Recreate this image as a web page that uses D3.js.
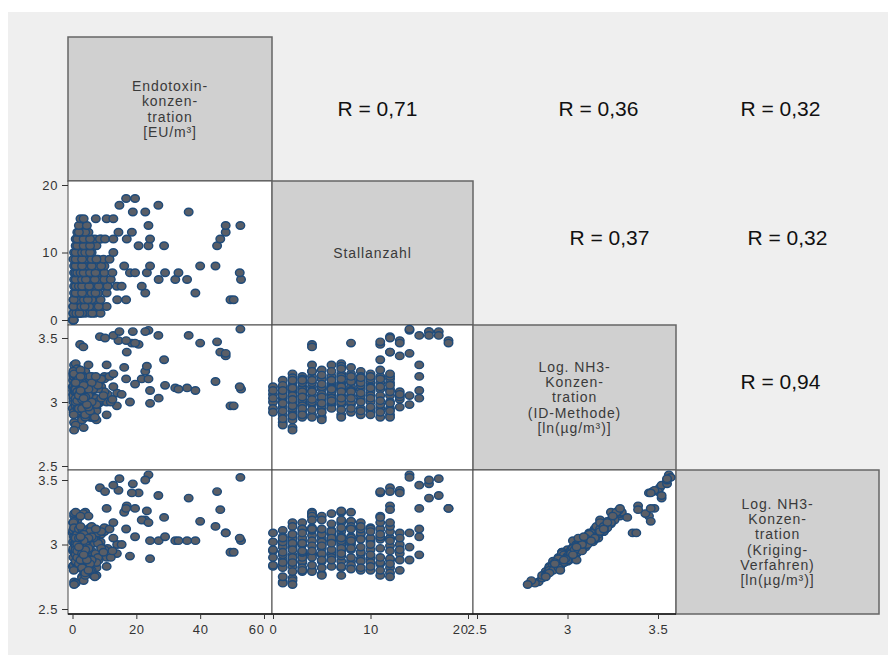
<!DOCTYPE html>
<html lang="de">
<head>
<meta charset="utf-8">
<title>Korrelationsmatrix Endotoxin / NH3</title>
<script src="https://cdnjs.cloudflare.com/ajax/libs/d3/7.8.5/d3.min.js"></script>
<style>
  html, body { margin: 0; padding: 0; background: #fff; }
  svg { display: block; font-family: "Liberation Sans", Arial, sans-serif; }
</style>
</head>
<body>
<script>
// diagonal labels (one entry per line)
const varLabels = [
  ["Endotoxin-", "konzen-", "tration", "[EU/m³]"],
  ["Stallanzahl"],
  ["Log. NH3-", "Konzen-", "tration", "(ID-Methode)", "[ln(µg/m³)]"],
  ["Log. NH3-", "Konzen-", "tration", "(Kriging-", "Verfahren)", "[ln(µg/m³)]"]
];

// correlations in the upper triangle
const corrRow  = [0, 0, 0, 1, 1, 2];
const corrCol  = [1, 2, 3, 2, 3, 3];
const corrText = ["R = 0,71", "R = 0,36", "R = 0,32", "R = 0,37", "R = 0,32", "R = 0,94"];

// tick labels
const ticksEndo  = [0, 20, 40, 60];
const ticksStall = [0, 10, 20];
const ticksNH3   = [2.5, 3, 3.5];

// observations, one line per Stallanzahl group (0..18)
const endotoxin = [
  0.1,0.2,0.3,0.1,0.4,0.2,0.3,
  0.2,0.8,1.5,2,2.5,0.5,1,4,5.5,7,8.8,0.4,1.2,3,2.2,6.2,
  0.2,0.8,1.5,2,2.5,3,3.5,0.5,4.5,6,7.5,9,10.7,1,1.8,0.3,2.8,5.2,3.8,8.2,
  0.3,1,2,3,4,5.5,7,8.8,2.5,6,14,16.8,49.5,50.5,0.8,1.6,3.6,4.8,0.4,
  0.5,1.5,2.5,3.5,5,6.5,8,10.7,4,2.4,3.4,5,22.8,38.5,1,3,6,7.2,
  0.5,1.5,2.5,3.5,4.5,6,7.5,9,11,13.9,15.4,21.7,1,2,3,5.2,8.2,
  0.5,1.5,2.5,3.5,5,6.5,8,10,12,27,32.2,35.9,52.8,1,3,4.2,7,
  0.5,1,2,3,4,5,6.5,8,10,12.5,18,19.6,23.3,29,33.2,52.4,1.5,2.5,3.5,5.5,7.2,
  0.5,1.5,2.5,3.5,5,6.5,8,10,4,16.2,24.3,40,44.8,1,3,6,9,
  0.3,1.5,2.5,3.5,5,6.5,8,9.7,11.6,4,1,3,6,7.5,
  0.5,1.5,2.5,3.5,4.5,6,12.8,2,5,1,3,4,5.5,
  1,2,3,4,5,6,7.5,2.5,20.7,23.8,28.7,45.3,1.5,3.5,5.5,
  1,2,3,4,5,6,7,9,2.5,8.6,10.2,12.8,17,24.3,46.3,1.5,3.5,5.5,
  1.5,3,5,2.5,14.4,18.6,48,4,2,
  2,4.5,23.8,48,52.6,
  2.5,3.5,7.3,10.7,12.8,
  18.9,22.8,36.4,
  14.7,26.9,
  16.8,19.6
];
const stalls = [
  0,0,0,0,0,0,0,
  1,1,1,1,1,1,1,1,1,1,1,1,1,1,1,1,
  2,2,2,2,2,2,2,2,2,2,2,2,2,2,2,2,2,2,2,2,
  3,3,3,3,3,3,3,3,3,3,3,3,3,3,3,3,3,3,3,
  4,4,4,4,4,4,4,4,4,4,4,4,4,4,4,4,4,4,
  5,5,5,5,5,5,5,5,5,5,5,5,5,5,5,5,5,
  6,6,6,6,6,6,6,6,6,6,6,6,6,6,6,6,6,
  7,7,7,7,7,7,7,7,7,7,7,7,7,7,7,7,7,7,7,7,7,
  8,8,8,8,8,8,8,8,8,8,8,8,8,8,8,8,8,
  9,9,9,9,9,9,9,9,9,9,9,9,9,9,
  10,10,10,10,10,10,10,10,10,10,10,10,10,
  11,11,11,11,11,11,11,11,11,11,11,11,11,11,11,
  12,12,12,12,12,12,12,12,12,12,12,12,12,12,12,12,12,12,
  13,13,13,13,13,13,13,13,13,
  14,14,14,14,14,
  15,15,15,15,15,
  16,16,16,
  17,17,
  18,18
];
const nh3ID = [
  3.12,3.06,3.00,2.95,2.92,3.09,3.03,
  3.17,3.10,3.03,2.96,2.90,2.84,2.82,3.07,3.00,2.93,3.12,3.13,2.99,2.87,3.05,3.09,
  3.22,3.15,3.08,3.00,2.93,2.86,2.80,2.78,3.12,3.04,2.95,3.10,2.90,2.97,3.19,3.05,3.11,2.89,3.02,3.17,
  3.20,3.12,3.05,2.98,2.92,2.88,3.10,3.00,3.15,3.02,3.07,3.18,2.97,2.97,3.08,2.95,3.17,3.04,2.90,
  3.20,3.12,3.05,2.98,2.90,2.88,3.15,3.00,3.24,3.45,3.43,3.29,3.24,3.09,3.08,3.17,3.02,2.94,
  3.25,3.18,3.10,3.02,2.95,2.88,2.86,3.12,3.06,2.97,3.06,3.18,3.14,3.04,3.21,2.92,2.99,
  3.29,3.20,3.12,3.05,2.98,2.95,3.15,3.08,3.00,3.03,3.11,3.11,3.10,3.24,3.17,3.01,3.10,
  3.22,3.30,3.15,3.05,2.98,2.90,2.88,3.10,3.20,3.02,3.00,3.14,3.28,3.13,3.10,3.12,3.26,3.08,2.94,3.18,3.03,
  3.22,3.15,3.05,2.98,2.92,3.10,3.00,3.18,3.12,3.27,3.09,3.46,3.16,3.08,2.95,3.20,3.03,
  3.24,3.17,3.10,3.02,2.95,2.90,3.13,3.05,3.20,3.07,3.00,3.15,3.19,2.93,
  3.22,3.15,3.08,3.00,2.93,2.90,3.12,3.18,3.05,3.03,2.96,3.11,3.20,
  3.10,2.95,3.20,2.88,3.05,3.15,2.98,3.25,3.45,3.18,3.33,3.47,3.01,3.12,2.92,
  3.15,3.05,2.95,2.90,3.10,3.00,2.88,3.18,3.20,3.51,3.50,3.22,3.39,2.99,3.39,3.08,3.13,2.93,
  3.08,3.02,2.96,3.05,3.48,3.46,3.36,3.04,3.06,
  3.05,2.98,3.56,3.38,3.57,
  3.09,3.03,3.20,3.29,3.52,
  3.55,3.55,3.52,
  3.55,3.52,
  3.48,3.46
];
const nh3Krig = [
  3.09,2.95,2.96,2.83,2.84,3.02,2.90,
  3.11,3.00,2.98,2.85,2.82,2.71,2.70,3.03,2.88,2.86,3.02,3.06,2.92,2.75,2.94,3.05,
  3.17,3.06,3.04,2.90,2.87,2.74,2.72,2.69,3.08,2.92,2.90,2.98,2.83,2.86,3.14,2.97,3.01,2.79,2.96,3.08,
  3.17,3.02,3.00,2.86,2.87,2.79,3.05,2.92,3.12,2.90,3.00,3.12,2.94,2.94,3.01,2.82,3.09,2.95,2.80,
  3.13,3.07,2.93,2.92,2.80,2.79,3.11,2.90,3.25,3.22,3.24,3.22,3.19,3.03,2.99,3.12,2.95,2.84,
  3.22,3.09,3.05,2.92,2.87,2.77,2.76,3.08,2.97,2.93,3.00,3.19,3.02,2.99,3.12,2.82,2.88,
  3.24,3.11,3.08,2.94,2.92,2.83,3.10,2.96,2.90,3.03,3.03,3.03,3.03,3.16,3.05,2.88,3.01,
  3.17,3.25,3.04,2.99,2.87,2.82,2.76,3.01,3.10,2.95,2.91,3.06,3.26,3.06,3.03,3.05,3.19,2.97,2.83,3.13,2.93,
  3.18,3.06,3.00,2.87,2.84,3.05,2.90,3.13,3.02,3.25,3.03,3.18,3.14,2.96,2.81,3.12,2.97,
  3.17,3.08,3.05,2.93,2.89,2.80,3.09,2.94,3.12,2.98,2.87,3.04,3.14,2.82,
  3.13,3.05,3.02,2.89,2.86,2.80,3.05,3.12,2.96,2.92,2.83,3.00,3.10,
  3.04,2.85,3.12,2.76,2.97,3.06,2.86,3.22,3.40,3.17,3.21,3.41,2.90,3.08,2.80,
  3.05,2.99,2.82,2.78,3.05,2.88,2.75,3.10,3.14,3.44,3.41,3.17,3.30,2.89,3.27,2.95,3.03,2.85,
  3.00,2.93,2.80,2.88,3.42,3.40,3.09,2.96,3.05,
  2.98,2.88,3.54,3.09,3.52,
  3.06,2.92,3.12,3.28,3.46,
  3.47,3.50,3.36,
  3.51,3.38,
  3.28,3.28
];

// ---- layout ----
const w = 888, h = 655;
const colX = [68, 272, 473, 676, 879];
const rowY = [37, 181, 325, 470, 614];
// nudges for the R labels relative to cell centre
const corrDx = [5, 24, 3, 35, 10, 3];
const corrDy = [0, 0, 0, -15, -15, -16];

let svg = d3.select("body")
  .append("svg")
  .attr("width", w)
  .attr("height", h);

svg.append("rect")
  .attr("x", 8).attr("y", 12)
  .attr("width", w - 8).attr("height", h - 12)
  .attr("fill", "#efefef");

// scales: x for columns 0..2, y for rows 1..3
let xScales = [
  d3.scaleLinear().domain([0, 60]).range([72.5, 264]),
  d3.scaleLinear().domain([0, 20]).range([273, 468]),
  d3.scaleLinear().domain([2.5, 3.5]).range([477, 658])
];
let yScales = [
  null,
  d3.scaleLinear().domain([0, 20]).range([320, 185]),
  d3.scaleLinear().domain([2.5, 3.5]).range([466, 338]),
  d3.scaleLinear().domain([2.5, 3.5]).range([609, 480])
];
let vars = [endotoxin, stalls, nh3ID, nh3Krig];
let n = d3.min(vars, v => v.length);
let idx = d3.range(n);

// cells
for (let i = 0; i < 4; i++) {
  for (let j = 0; j <= i; j++) {
    svg.append("rect")
      .attr("x", colX[j]).attr("y", rowY[i])
      .attr("width", colX[j + 1] - colX[j])
      .attr("height", rowY[i + 1] - rowY[i])
      .attr("fill", i === j ? "#d0d0d0" : "#fff")
      .attr("stroke", i === j ? "#666" : "#4a4a4a")
      .attr("stroke-width", i === j ? 1.5 : 1);
  }
}
// darker bottom line under the last row
svg.append("line")
  .attr("x1", colX[0]).attr("x2", colX[3])
  .attr("y1", rowY[4]).attr("y2", rowY[4])
  .attr("stroke", "#111").attr("stroke-width", 1.5);

// diagonal labels
varLabels.forEach((lines, k) => {
  let cx = (colX[k] + colX[k + 1]) / 2;
  let cy = (rowY[k] + rowY[k + 1]) / 2;
  let lh = 15.3;
  let t = svg.append("text")
    .attr("text-anchor", "middle")
    .attr("font-size", 14)
    .attr("letter-spacing", 0.9)
    .attr("fill", "#3a3a3a");
  lines.forEach((s, m) => {
    t.append("tspan")
      .attr("x", cx)
      .attr("y", cy + (m - (lines.length - 1) / 2) * lh)
      .attr("dy", "0.35em")
      .text(s);
  });
});

// correlation labels
corrText.forEach((s, k) => {
  let r = corrRow[k], c = corrCol[k];
  svg.append("text")
    .attr("x", (colX[c] + colX[c + 1]) / 2 + corrDx[k])
    .attr("y", (rowY[r] + rowY[r + 1]) / 2 + corrDy[k])
    .attr("dy", "0.35em")
    .attr("text-anchor", "middle")
    .attr("font-size", 21)
    .attr("fill", "#111")
    .text(s);
});

// y axes (left of first column)
for (let i = 1; i < 4; i++) {
  let g = svg.append("g")
    .attr("transform", "translate(" + colX[0] + ",0)")
    .call(d3.axisLeft(yScales[i])
      .tickValues(i === 1 ? ticksStall : ticksNH3)
      .tickSize(6).tickPadding(4)
      .tickFormat(d => String(d)));
  g.select(".domain").remove();
  g.attr("font-size", 13).attr("font-family", null).attr("color", "#333");
  g.selectAll("text").attr("letter-spacing", 0.6);
}

// x axes (under last row)
for (let j = 0; j < 3; j++) {
  let tv = j === 0 ? ticksEndo : (j === 1 ? ticksStall : ticksNH3);
  let g = svg.append("g")
    .attr("transform", "translate(0," + rowY[4] + ")")
    .call(d3.axisBottom(xScales[j])
      .tickValues(tv)
      .tickSize(5).tickPadding(6)
      .tickFormat(d => String(d)));
  g.select(".domain").remove();
  g.attr("font-size", 13).attr("font-family", null).attr("color", "#333");
  g.selectAll("text").attr("letter-spacing", 0.6);
  if (j < 2) {
    g.selectAll(".tick text")
      .filter(d => d === tv[tv.length - 1])
      .attr("text-anchor", "end").attr("x", 0);
  }
}

// scatter points
for (let i = 1; i < 4; i++) {
  for (let j = 0; j < i; j++) {
    svg.append("g")
      .selectAll("ellipse")
      .data(idx)
      .enter()
      .append("ellipse")
      .attr("cx", k => xScales[j](vars[j][k]))
      .attr("cy", k => yScales[i](vars[i][k]))
      .attr("rx", 4.3)
      .attr("ry", 3.7)
      .attr("fill", "#5a5e66")
      .attr("stroke", "#1f4b7a")
      .attr("stroke-width", 1.4);
  }
}
</script>
</body>
</html>
